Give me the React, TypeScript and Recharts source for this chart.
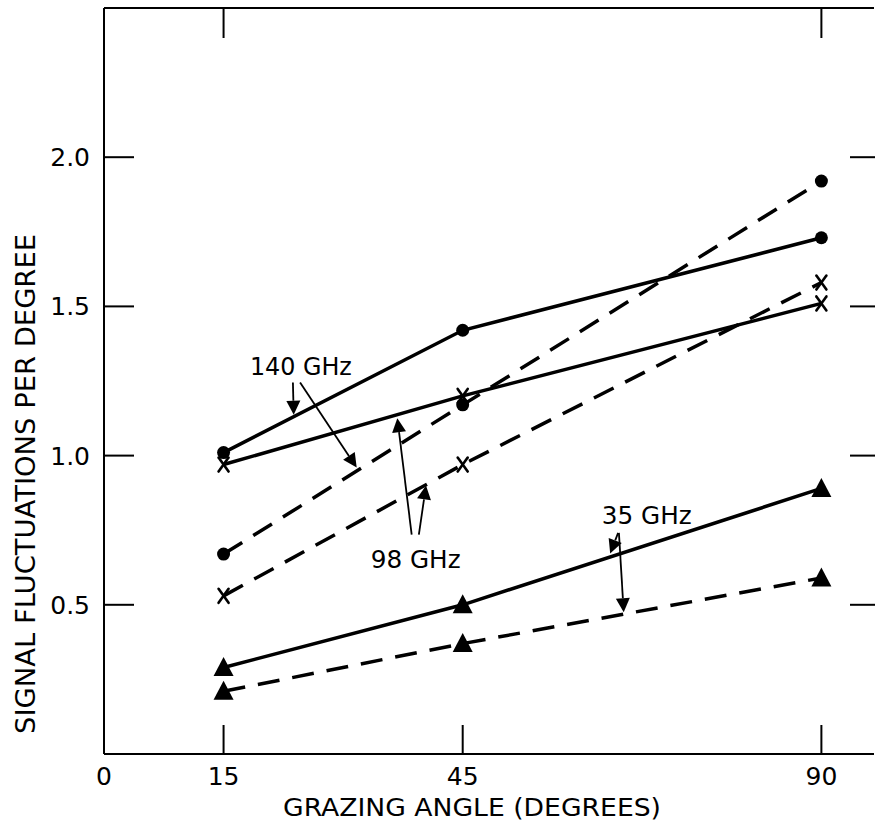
import { LineChart, Line, XAxis, YAxis, ReferenceLine, ReferenceDot } from "recharts";

// grazing angle (degrees)
const angles = [15, 45, 90];
// signal fluctuations per degree
const ghz140Solid = [1.01, 1.42, 1.73];
const ghz140Dashed = [0.67, 1.17, 1.92];
const ghz98Solid = [0.97, 1.2, 1.51];
const ghz98Dashed = [0.53, 0.97, 1.58];
const ghz35Solid = [0.29, 0.5, 0.89];
const ghz35Dashed = [0.21, 0.37, 0.59];

const xTicks = [0, 15, 45, 90];
const yTicks = [0.5, 1.0, 1.5, 2.0];
const topTicks = [15, 90];

// callouts, in data units
const callouts = [
  { text: "140 GHz", x: 24.7, y: 1.3, len: 102 },
  { text: "98 GHz", x: 39.1, y: 0.654, len: 90 },
  { text: "35 GHz", x: 68.1, y: 0.8, len: 90 },
];
const arrows = [
  { x1: 23.7, y1: 1.245, x2: 23.8, y2: 1.137 },
  { x1: 24.6, y1: 1.245, x2: 31.7, y2: 0.96 },
  { x1: 38.6, y1: 0.735, x2: 36.8, y2: 1.125 },
  { x1: 39.5, y1: 0.735, x2: 40.4, y2: 0.9 },
  { x1: 64.5, y1: 0.741, x2: 63.5, y2: 0.672 },
  { x1: 64.6, y1: 0.741, x2: 65.2, y2: 0.475 },
];

const rows = angles.map((angle, i) => ({
  angle,
  s140: ghz140Solid[i],
  d140: ghz140Dashed[i],
  s98: ghz98Solid[i],
  d98: ghz98Dashed[i],
  s35: ghz35Solid[i],
  d35: ghz35Dashed[i],
}));

const FONT = "'DejaVu Sans', sans-serif";
const INK = "#000";
const X_MAX = 96.6;

function BottomTick(props: any) {
  const { x, y, payload } = props;
  return (
    <g>
      {payload.value > 0 && (
        <line x1={x} y1={y} x2={x} y2={y - 29} stroke={INK} strokeWidth={2} />
      )}
      <text x={x} y={y + 31} textAnchor="middle" fontSize={25} fontFamily={FONT} fill={INK}>
        {payload.value}
      </text>
    </g>
  );
}

function TopTick(props: any) {
  const { x, y } = props;
  return <line x1={x} y1={y} x2={x} y2={y + 30} stroke={INK} strokeWidth={2} />;
}

function LeftTick(props: any) {
  const { x, y, payload } = props;
  return (
    <g>
      <line x1={x} y1={y} x2={x + 30} y2={y} stroke={INK} strokeWidth={2} />
      <text x={x - 14} y={y + 9} textAnchor="end" fontSize={25} fontFamily={FONT} fill={INK}>
        {Number(payload.value).toFixed(1)}
      </text>
    </g>
  );
}

function RightTick(props: any) {
  const { x, y } = props;
  return <line x1={x - 24} y1={y} x2={x + 2} y2={y} stroke={INK} strokeWidth={2} />;
}

function markerFor(kind: string) {
  return (p: any) => {
    const { cx, cy, index } = p;
    if (cx == null || cy == null) return <g key={`m-${kind}-${index}`} />;
    if (kind === "dot") return <circle key={`m-${kind}-${index}`} cx={cx} cy={cy} r={6.5} fill={INK} />;
    if (kind === "tri")
      return (
        <polygon
          key={`m-${kind}-${index}`}
          points={`${cx},${cy - 10.5} ${cx - 10},${cy + 8.5} ${cx + 10},${cy + 8.5}`}
          fill={INK}
        />
      );
    return (
      <g key={`m-${kind}-${index}`} stroke={INK} strokeWidth={2.6} strokeLinecap="round">
        <line x1={cx - 5} y1={cy - 7} x2={cx + 5} y2={cy + 7} />
        <line x1={cx + 5} y1={cy - 7} x2={cx - 5} y2={cy + 7} />
      </g>
    );
  };
}

function ArrowShape(props: any) {
  const { x1, y1, x2, y2 } = props;
  const a = Math.atan2(y2 - y1, x2 - x1);
  const L = 14;
  const W = 7;
  const bx = x2 - L * Math.cos(a);
  const by = y2 - L * Math.sin(a);
  const px = -Math.sin(a) * W;
  const py = Math.cos(a) * W;
  return (
    <g>
      <line x1={x1} y1={y1} x2={bx} y2={by} stroke={INK} strokeWidth={1.8} />
      <polygon points={`${x2},${y2} ${bx + px},${by + py} ${bx - px},${by - py}`} fill={INK} />
    </g>
  );
}

function calloutShape(text: string, len: number) {
  return (p: any) => (
    <text
      x={p.cx}
      y={p.cy + 9}
      textAnchor="middle"
      fontSize={24}
      fontFamily={FONT}
      fill={INK}
      textLength={len}
      lengthAdjust="spacingAndGlyphs"
    >
      {text}
    </text>
  );
}

const series = [
  { key: "s140", dash: undefined, marker: "dot" },
  { key: "d140", dash: "22 13", marker: "dot" },
  { key: "s98", dash: undefined, marker: "x" },
  { key: "d98", dash: "22 13", marker: "x" },
  { key: "s35", dash: undefined, marker: "tri" },
  { key: "d35", dash: "22 13", marker: "tri" },
];

export default function App() {
  return (
    <div style={{ position: "absolute", left: 0, top: 0, width: 875, height: 826, background: "#fff" }}>
      <LineChart width={875} height={826} data={rows} margin={{ top: 7, right: 0, bottom: 0, left: 0 }}>
        <XAxis
          dataKey="angle"
          type="number"
          domain={[0, X_MAX]}
          allowDataOverflow
          ticks={xTicks}
          interval={0}
          height={72}
          tickSize={0}
          tickMargin={0}
          tickLine={false}
          tick={<BottomTick />}
          axisLine={{ stroke: INK, strokeWidth: 2 }}
          label={{
            content: (p: any) => {
              const vb = p.viewBox || { x: 104, y: 754 };
              return (
                <text
                  x={vb.x + 368}
                  y={vb.y + 62}
                  textAnchor="middle"
                  fontSize={24}
                  fontFamily={FONT}
                  fill={INK}
                  textLength={378}
                  lengthAdjust="spacingAndGlyphs"
                >
                  GRAZING ANGLE (DEGREES)
                </text>
              );
            },
          }}
        />
        <XAxis
          xAxisId="top"
          orientation="top"
          dataKey="angle"
          type="number"
          domain={[0, X_MAX]}
          allowDataOverflow
          ticks={topTicks}
          interval={0}
          height={1}
          tickSize={0}
          tickMargin={0}
          tickLine={false}
          tick={<TopTick />}
          axisLine={{ stroke: INK, strokeWidth: 2 }}
        />
        <YAxis
          type="number"
          domain={[0, 2.5]}
          allowDataOverflow
          ticks={yTicks}
          interval={0}
          width={104}
          tickSize={0}
          tickMargin={0}
          tickLine={false}
          tick={<LeftTick />}
          axisLine={{ stroke: INK, strokeWidth: 2 }}
          label={{
            content: (p: any) => {
              const vb = p.viewBox || { x: 0, y: 8 };
              return (
                <text
                  transform={`translate(${vb.x + 35}, ${vb.y + 476}) rotate(-90)`}
                  textAnchor="middle"
                  fontSize={26}
                  fontFamily={FONT}
                  fill={INK}
                  textLength={500}
                  lengthAdjust="spacingAndGlyphs"
                >
                  SIGNAL FLUCTUATIONS PER DEGREE
                </text>
              );
            },
          }}
        />
        <YAxis
          yAxisId="right"
          orientation="right"
          type="number"
          domain={[0, 2.5]}
          allowDataOverflow
          ticks={yTicks}
          interval={0}
          width={1}
          tickSize={0}
          tickMargin={0}
          tickLine={false}
          tick={<RightTick />}
          axisLine={false}
        />
        {/* invisible series so the frame axes (top / right) get drawn */}
        <Line
          xAxisId="top"
          yAxisId="right"
          dataKey="s140"
          stroke="none"
          dot={false}
          activeDot={false}
          legendType="none"
          isAnimationActive={false}
        />
        {series.map((s) => (
          <Line
            key={s.key}
            dataKey={s.key}
            type="linear"
            stroke={INK}
            strokeWidth={3.5}
            strokeDasharray={s.dash}
            dot={markerFor(s.marker)}
            activeDot={false}
            isAnimationActive={false}
          />
        ))}
        {arrows.map((a, i) => (
          <ReferenceLine
            key={`arrow-${i}`}
            segment={[
              { x: a.x1, y: a.y1 },
              { x: a.x2, y: a.y2 },
            ]}
            shape={(p: any) => <ArrowShape {...p} />}
          />
        ))}
        {callouts.map((c) => (
          <ReferenceDot key={c.text} x={c.x} y={c.y} r={0} shape={calloutShape(c.text, c.len)} />
        ))}
      </LineChart>
    </div>
  );
}
